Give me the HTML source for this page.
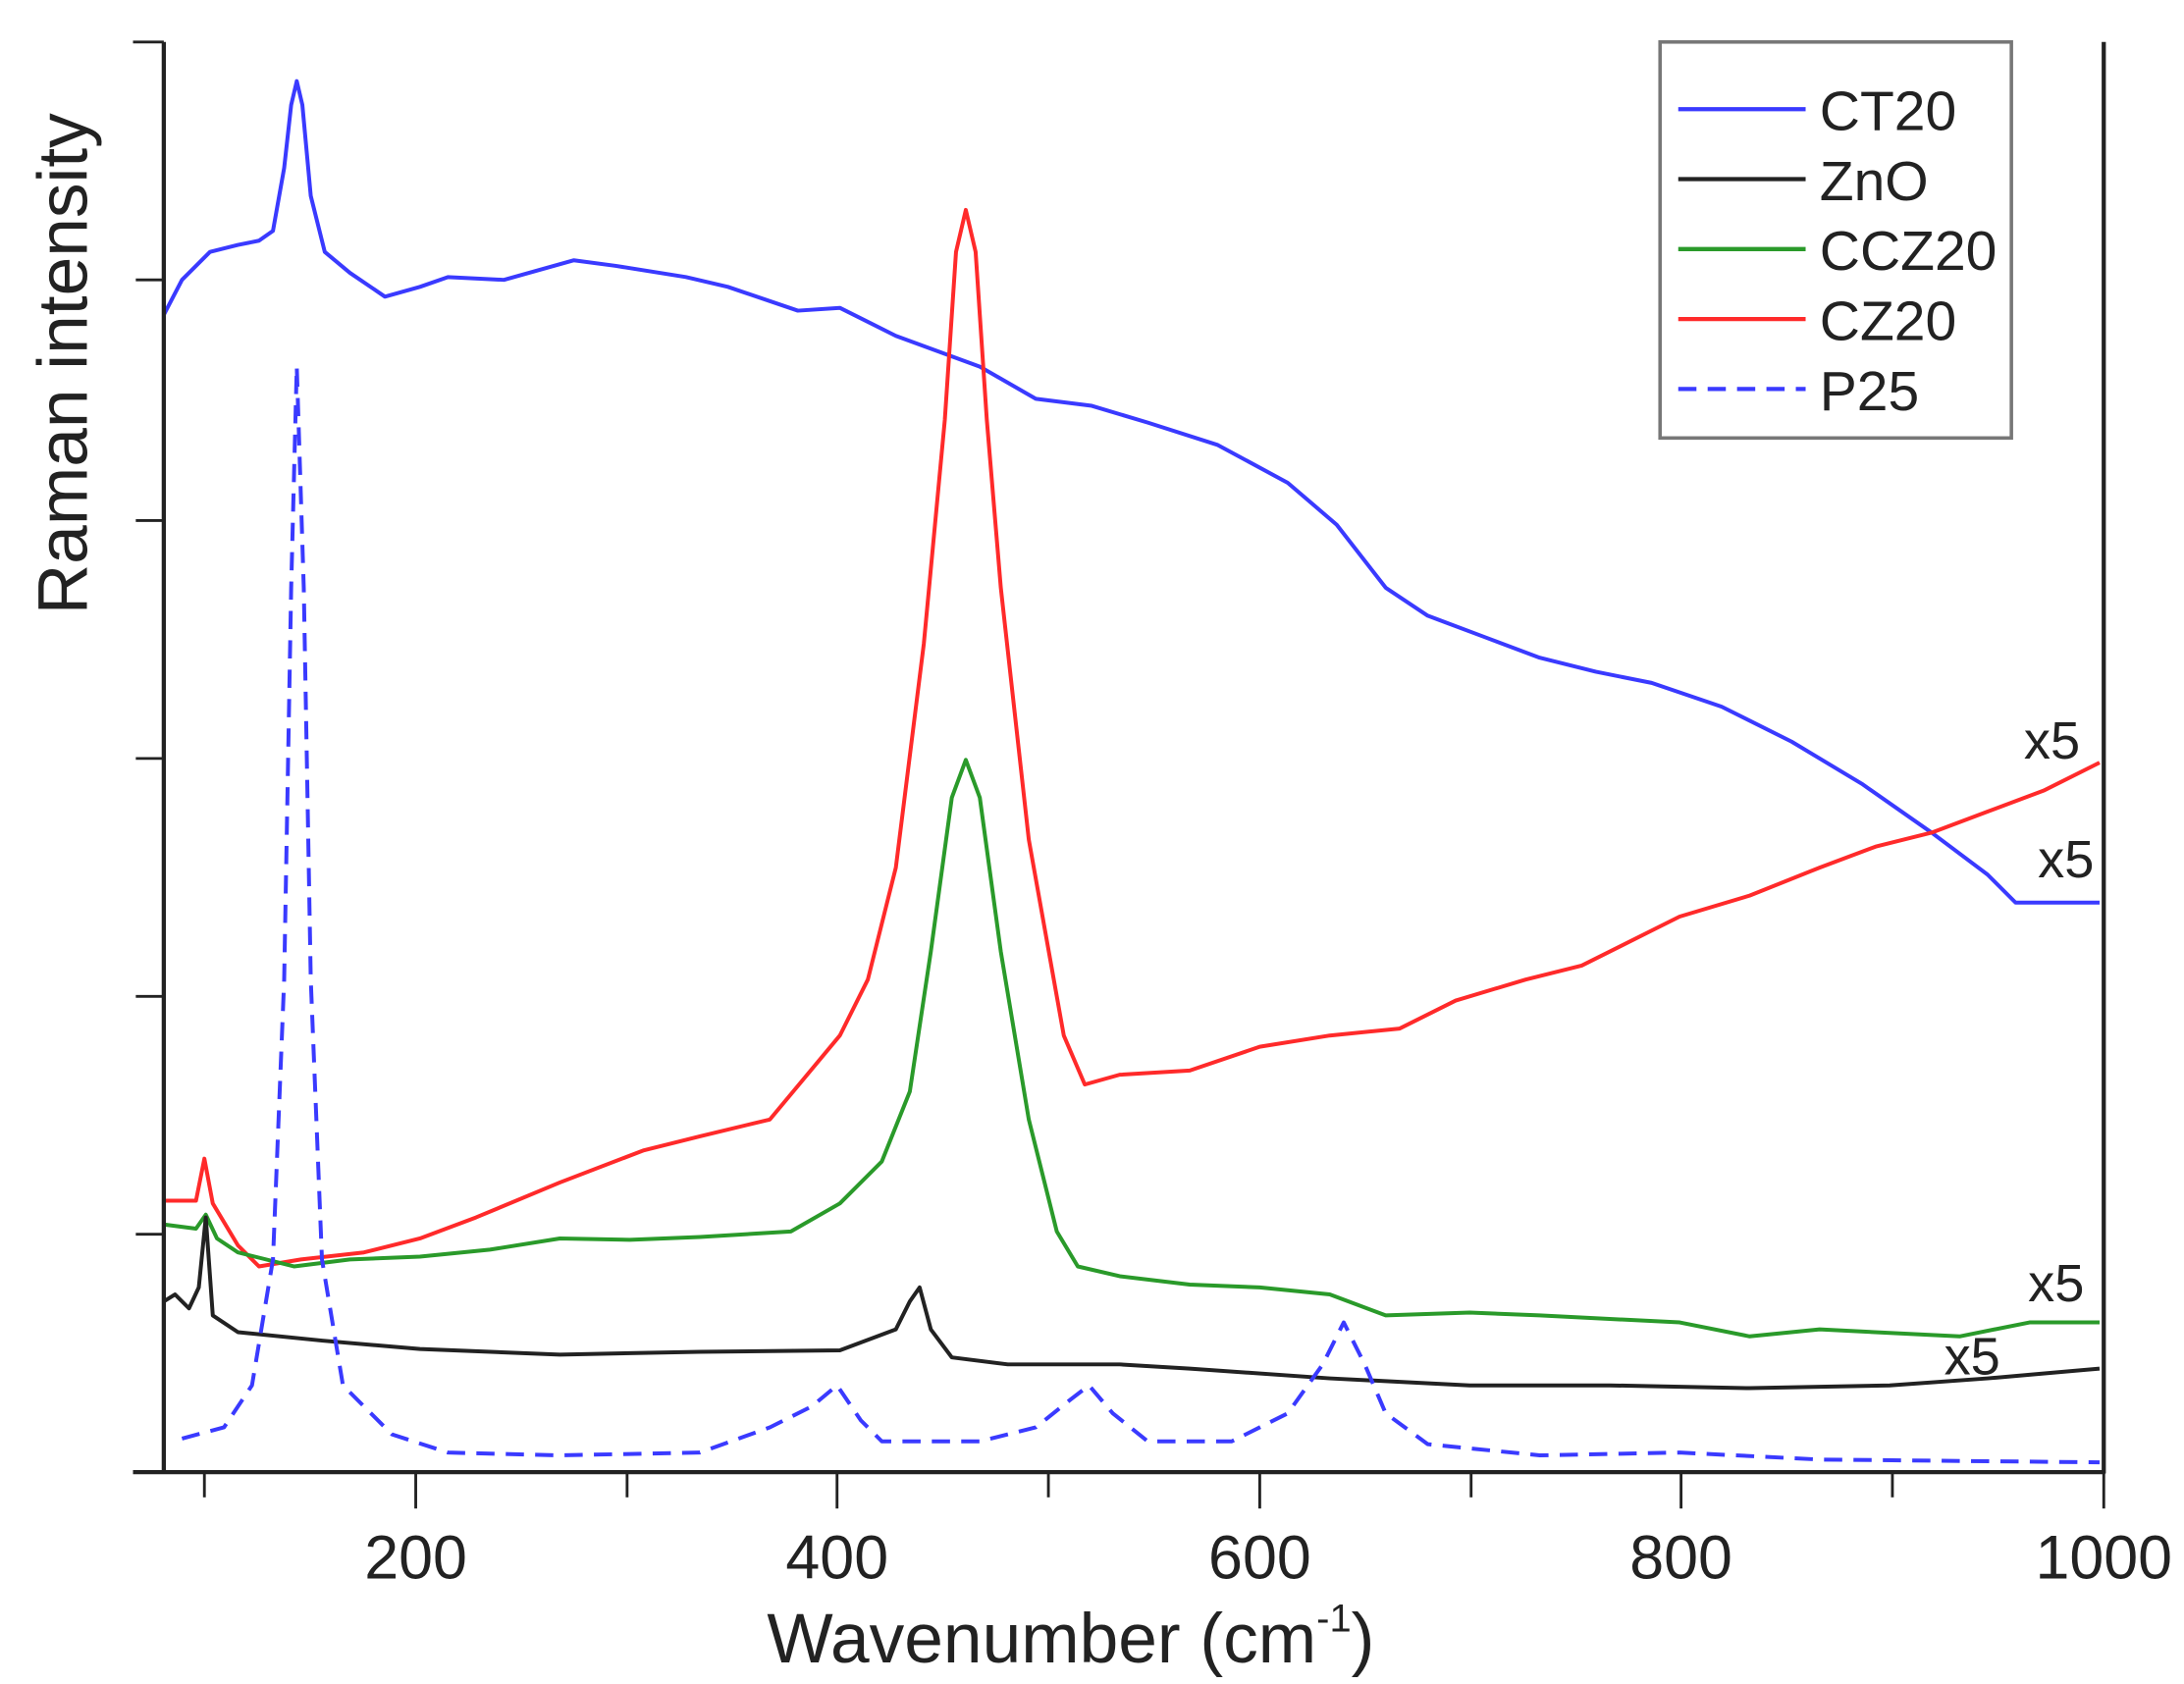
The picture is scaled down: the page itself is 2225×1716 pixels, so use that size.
<!DOCTYPE html>
<html><head><meta charset="utf-8"><style>html,body{margin:0;padding:0;background:#fff}svg{display:block}</style></head><body>
<svg width="2225" height="1716" viewBox="0 0 1560.3 1203.4" xmlns="http://www.w3.org/2000/svg" font-family="Liberation Sans, sans-serif">
<rect width="1560.3" height="1203.4" fill="#fff"/>
<g fill="none" stroke-width="2.8" stroke-linejoin="round">
<polyline stroke="#3a3aff" points="117,225 130,200 150,180 170,175 185,172 195,165 203,120 208,75 212,58 216,75 222,140 232,180 250,195 275,212 300,205 320,198 360,200 410,186 440,190 490,198 520,205 570,222 600,220 640,240 700,262 740,285 780,290 820,302 870,318 920,345 955,375 990,420 1020,440 1060,455 1100,470 1140,480 1180,488 1230,505 1280,530 1330,560 1380,595 1420,625 1440,645 1500,645"/>
<polyline stroke="#ff2a2a" points="117,858 140,858 146,828 152,860 170,890 185,905 215,900 260,895 300,885 340,870 400,845 460,822 500,812 550,800 575,770 600,740 620,700 640,620 660,460 675,300 683,180 690,150 697,180 705,300 715,420 735,600 760,740 775,775 800,768 850,765 900,748 950,740 1000,735 1040,715 1090,700 1130,690 1180,665 1200,655 1250,640 1300,620 1340,605 1380,595 1420,580 1460,565 1500,545"/>
<polyline stroke="#2a9a2a" points="117,875 140,878 147,868 155,885 170,895 210,905 250,900 300,898 350,893 400,885 450,886 500,884 565,880 600,860 630,830 650,780 665,680 680,570 690,543 700,570 715,680 735,800 755,880 770,905 800,912 850,918 900,920 950,925 990,940 1050,938 1100,940 1200,945 1250,955 1300,950 1400,955 1450,945 1500,945"/>
<polyline stroke="#222" points="117,930 125,925 135,935 142,920 147,870 152,940 170,952 230,958 300,964 400,968 500,966 600,965 640,950 650,930 657,920 665,950 680,970 720,975 800,975 850,978 950,985 1050,990 1150,990 1250,992 1350,990 1420,985 1500,978"/>
<polyline stroke="#3a3aff" stroke-dasharray="13,8" points="130,1028 160,1020 180,990 195,900 203,700 208,420 212,262 217,420 222,700 230,900 245,990 280,1025 320,1038 400,1040 500,1038 550,1020 580,1005 598,990 615,1015 630,1030 700,1030 740,1020 765,1000 778,990 795,1010 820,1030 880,1030 920,1010 945,975 960,945 975,975 990,1010 1020,1032 1100,1040 1200,1038 1300,1043 1500,1045"/>
</g>
<g stroke="#222" stroke-width="3" fill="none">
<line x1="117" y1="30" x2="117" y2="1053"/>
<line x1="1503" y1="30" x2="1503" y2="1053"/>
<line x1="95" y1="1052" x2="1504" y2="1052"/>
</g>
<g stroke="#222" stroke-width="2">
<line x1="95" y1="30" x2="117" y2="30"/><line x1="97" y1="200" x2="117" y2="200"/><line x1="97" y1="372" x2="117" y2="372"/><line x1="97" y1="542" x2="117" y2="542"/><line x1="97" y1="712" x2="117" y2="712"/><line x1="97" y1="882" x2="117" y2="882"/>
<line x1="146" y1="1052" x2="146" y2="1070"/><line x1="297" y1="1052" x2="297" y2="1078"/><line x1="448" y1="1052" x2="448" y2="1070"/><line x1="598" y1="1052" x2="598" y2="1078"/><line x1="749" y1="1052" x2="749" y2="1070"/><line x1="900" y1="1052" x2="900" y2="1078"/><line x1="1051" y1="1052" x2="1051" y2="1070"/><line x1="1201" y1="1052" x2="1201" y2="1078"/><line x1="1352" y1="1052" x2="1352" y2="1070"/><line x1="1503" y1="1052" x2="1503" y2="1078"/>
</g>
<g font-size="44" fill="#222" text-anchor="middle">
<text x="297" y="1128">200</text><text x="598" y="1128">400</text><text x="900" y="1128">600</text><text x="1201" y="1128">800</text><text x="1503" y="1128">1000</text>
</g>
<text x="765" y="1188" font-size="50" fill="#222" text-anchor="middle">Wavenumber (cm<tspan font-size="28" dy="-22">-1</tspan><tspan dy="22">)</tspan></text>
<text transform="translate(62,260) rotate(-90)" font-size="50" fill="#222" text-anchor="middle">Raman intensity</text>
<g font-size="38" fill="#222" text-anchor="middle">
<text x="1466" y="542">x5</text><text x="1476" y="627">x5</text><text x="1469" y="930">x5</text><text x="1409" y="982">x5</text>
</g>
<rect x="1186" y="30" width="251" height="283" fill="#fff" stroke="#777" stroke-width="2.5"/>
<g stroke-width="3">
<line x1="1199" y1="78" x2="1290" y2="78" stroke="#3a3aff"/>
<line x1="1199" y1="128" x2="1290" y2="128" stroke="#222"/>
<line x1="1199" y1="178" x2="1290" y2="178" stroke="#2a9a2a"/>
<line x1="1199" y1="228" x2="1290" y2="228" stroke="#ff2a2a"/>
<line x1="1199" y1="278" x2="1290" y2="278" stroke="#3a3aff" stroke-dasharray="13,8"/>
</g>
<g font-size="40" fill="#222">
<text x="1300" y="93">CT20</text><text x="1300" y="143">ZnO</text><text x="1300" y="193">CCZ20</text><text x="1300" y="243">CZ20</text><text x="1300" y="293">P25</text>
</g>
</svg>
</body></html>
